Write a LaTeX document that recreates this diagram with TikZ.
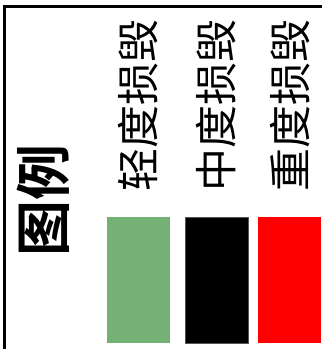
\documentclass[tikz,border=0pt]{standalone}
\usepackage{fontspec}
\newfontfamily\cjk{Noto Sans CJK SC}
\newfontfamily\cjkb{Noto Sans CJK SC Bold}
\definecolor{lightgreen}{HTML}{75B075}
\definecolor{framegray}{HTML}{555555}
\tikzset{
  lbl/.style={rotate=90, inner sep=0pt, font=\cjk\fontsize{43}{43}\selectfont},
  swatch/.style={minimum width=63pt, minimum height=126pt, inner sep=0pt, anchor=north west},
}
\begin{document}
\begin{tikzpicture}[x=1pt,y=-1pt]
\useasboundingbox (0,0) rectangle (326,349);
\draw[line width=3pt] (4.5,349) coordinate (fb) -- (4.5,6) coordinate (fc) -- (322,6) coordinate (fr);
\node[rotate=90, inner sep=0pt, font=\cjkb\fontsize{56}{56}\selectfont] (title) at (43,200) {图例};
\node[lbl] (l1) at (138,105) {轻度损毁};
\node[lbl] (l2) at (216,105) {中度损毁};
\node[lbl] (l3) at (290,105) {重度损毁};
\node[swatch, fill=lightgreen] (s1) at (106.5,217) {};
\node[swatch, fill=black, draw=framegray, line width=0.8pt] (s2) at (184.5,217) {};
\node[swatch, fill=red] (s3) at (258,217) {};
\end{tikzpicture}
\end{document}
